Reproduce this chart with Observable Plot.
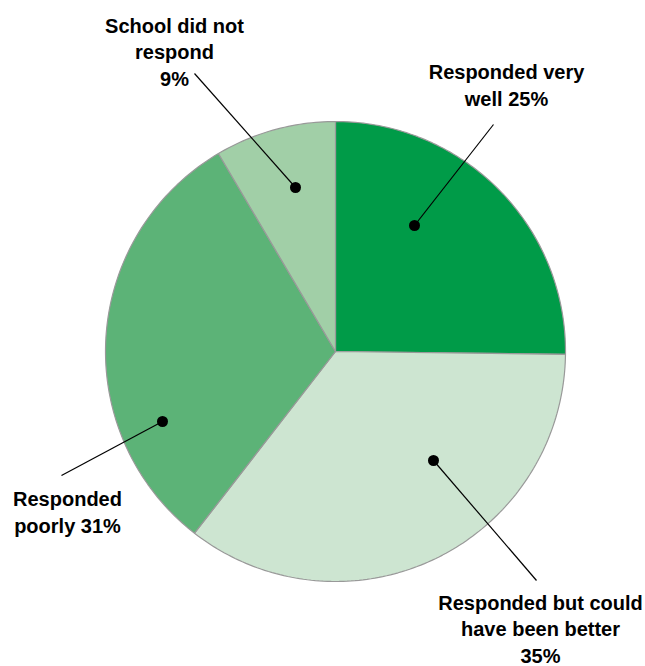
<!DOCTYPE html>
<html>
<head>
<meta charset="utf-8">
<script src="https://cdn.jsdelivr.net/npm/d3@7"></script>
<script src="https://cdn.jsdelivr.net/npm/@observablehq/plot@0.6"></script>
<style>
  html, body { margin: 0; padding: 0; background: #fff; }
  #chart svg { display: block; }
</style>
</head>
<body>
<div id="chart"></div>
<script>
// ---- data ----
const categories = [
  "Responded very well",
  "Responded but could have been better",
  "Responded poorly",
  "School did not respond"
];
const shares = [25.2, 35.3, 31.0, 8.5];          // slice sizes (angles)
const labels = [
  "Responded very\nwell 25%",
  "Responded but could\nhave been better\n35%",
  "Responded\npoorly 31%",
  "School did not\nrespond\n9%"
];
const colors = ["#009B48", "#CDE5D1", "#5CB377", "#A1CFA7"];

// ---- layout (annotation placement, relative to pie centre, in px) ----
const radius = 230;
const layout = [
  {dot: [79, 126],   end: [158, 227],   text: [171, 246]},
  {dot: [98, -109],  end: [201, -229],  text: [205, -311]},
  {dot: [-173, -70], end: [-274, -124], text: [-268, -181]},
  {dot: [-40, 164],  end: [-141, 278],  text: [-161, 266]}
];

// ---- build slice polygons from the shares ----
const total = d3.sum(shares);
const slices = [];
let acc = 0;
shares.forEach((v, i) => {
  const a0 = acc / total * 2 * Math.PI;
  acc += v;
  const a1 = acc / total * 2 * Math.PI;
  const n = Math.max(2, Math.ceil((a1 - a0) / (Math.PI / 180)));
  slices.push({cat: categories[i], x: 0, y: 0});
  for (let k = 0; k <= n; k++) {
    const a = a0 + (a1 - a0) * k / n;
    slices.push({cat: categories[i], x: radius * Math.sin(a), y: radius * Math.cos(a)});
  }
  slices.push({cat: categories[i], x: 0, y: 0});
});

const leaders = categories.map((c, i) => ({
  cat: c, x1: layout[i].dot[0], y1: layout[i].dot[1], x2: layout[i].end[0], y2: layout[i].end[1]
}));
const dots = categories.map((c, i) => ({cat: c, x: layout[i].dot[0], y: layout[i].dot[1]}));
const texts = categories.map((c, i) => ({cat: c, label: labels[i], x: layout[i].text[0], y: layout[i].text[1]}));

const chart = Plot.plot({
  width: 645,
  height: 666,
  margin: 0,
  x: {domain: [-335, 310], axis: null},
  y: {domain: [-315, 351], axis: null},
  color: {domain: categories, range: colors},
  style: {fontFamily: "'Liberation Sans', Arial, sans-serif", background: "#fff"},
  marks: [
    Plot.line(slices, {x: "x", y: "y", z: "cat", fill: "cat", stroke: "#999999", strokeWidth: 1.2, strokeLinejoin: "miter"}),
    Plot.link(leaders, {x1: "x1", y1: "y1", x2: "x2", y2: "y2", stroke: "#000", strokeWidth: 1.2}),
    Plot.dot(dots, {x: "x", y: "y", r: 5.5, fill: "#000", stroke: null}),
    Plot.text(texts, {x: "x", y: "y", text: "label", fontSize: 20, fontWeight: "bold", fill: "#000",
      lineAnchor: "bottom", lineHeight: 1.32, textAnchor: "middle"})
  ]
});
document.getElementById("chart").appendChild(chart);
</script>
</body>
</html>
